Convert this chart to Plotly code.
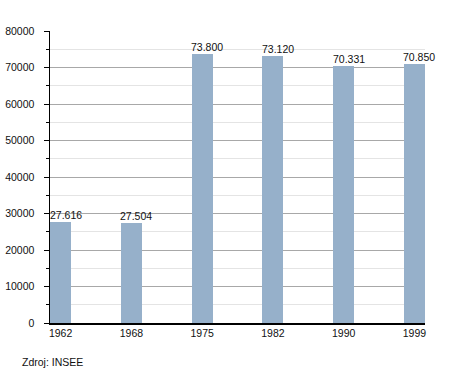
import plotly.graph_objects as go

years = ["1962", "1968", "1975", "1982", "1990", "1999"]
population = [27616, 27504, 73800, 73120, 70331, 70850]
labels = ["27.616", "27.504", "73.800", "73.120", "70.331", "70.850"]
y_ticks = [0, 10000, 20000, 30000, 40000, 50000, 60000, 70000, 80000]
y_ticktext = ["0", "10000", "20000", "30000", "40000", "50000", "60000", "70000", "80000"]

xpos = list(range(len(years)))
FONT = "Liberation Sans, Arial, Helvetica, sans-serif"

fig = go.Figure()
fig.add_trace(go.Bar(
    x=xpos, y=population, width=0.3,
    marker=dict(color="#96b0ca", line=dict(width=0)),
    hoverinfo="skip",
))
for xi, v, t in zip(xpos, population, labels):
    fig.add_annotation(x=xi, y=v, text=t, showarrow=False, yanchor="bottom",
                       xshift=5, yshift=-1,
                       font=dict(family=FONT, size=10.5, color="#111"))

fig.add_annotation(xref="paper", yref="paper", x=-30 / 375, y=-39 / 292, xanchor="left",
                   yanchor="middle", text="Zdroj: INSEE", showarrow=False,
                   font=dict(family=FONT, size=10.5, color="#111"))

fig.update_layout(
    width=455, height=373,
    margin=dict(l=50, r=30, t=31, b=50, autoexpand=False),
    paper_bgcolor="white", plot_bgcolor="white",
    showlegend=False,
    bargap=0,
    font=dict(family=FONT, size=10.5, color="#111"),
    xaxis=dict(
        range=[-0.15, 5.15], tickmode="array", tickvals=xpos, ticktext=years,
        showgrid=False, zeroline=False, showline=True, linecolor="black",
        linewidth=1.5, ticks="", automargin=False,
    ),
    yaxis=dict(
        range=[0, 80000], tickmode="array", tickvals=y_ticks, ticktext=y_ticktext,
        showgrid=True, gridcolor="#a8a8a8", gridwidth=1,
        zeroline=False, showline=True, linecolor="black", linewidth=1.5,
        ticks="outside", ticklen=5, tickcolor="black", ticklabelstandoff=7,
        automargin=False,
        minor=dict(dtick=5000, showgrid=True, gridcolor="#e4e4e4",
                   ticks="outside", ticklen=3, tickcolor="black"),
    ),
)

fig.write_html("out.html", config={"displayModeBar": False, "staticPlot": True},
               post_script="document.body.style.margin='0';")
